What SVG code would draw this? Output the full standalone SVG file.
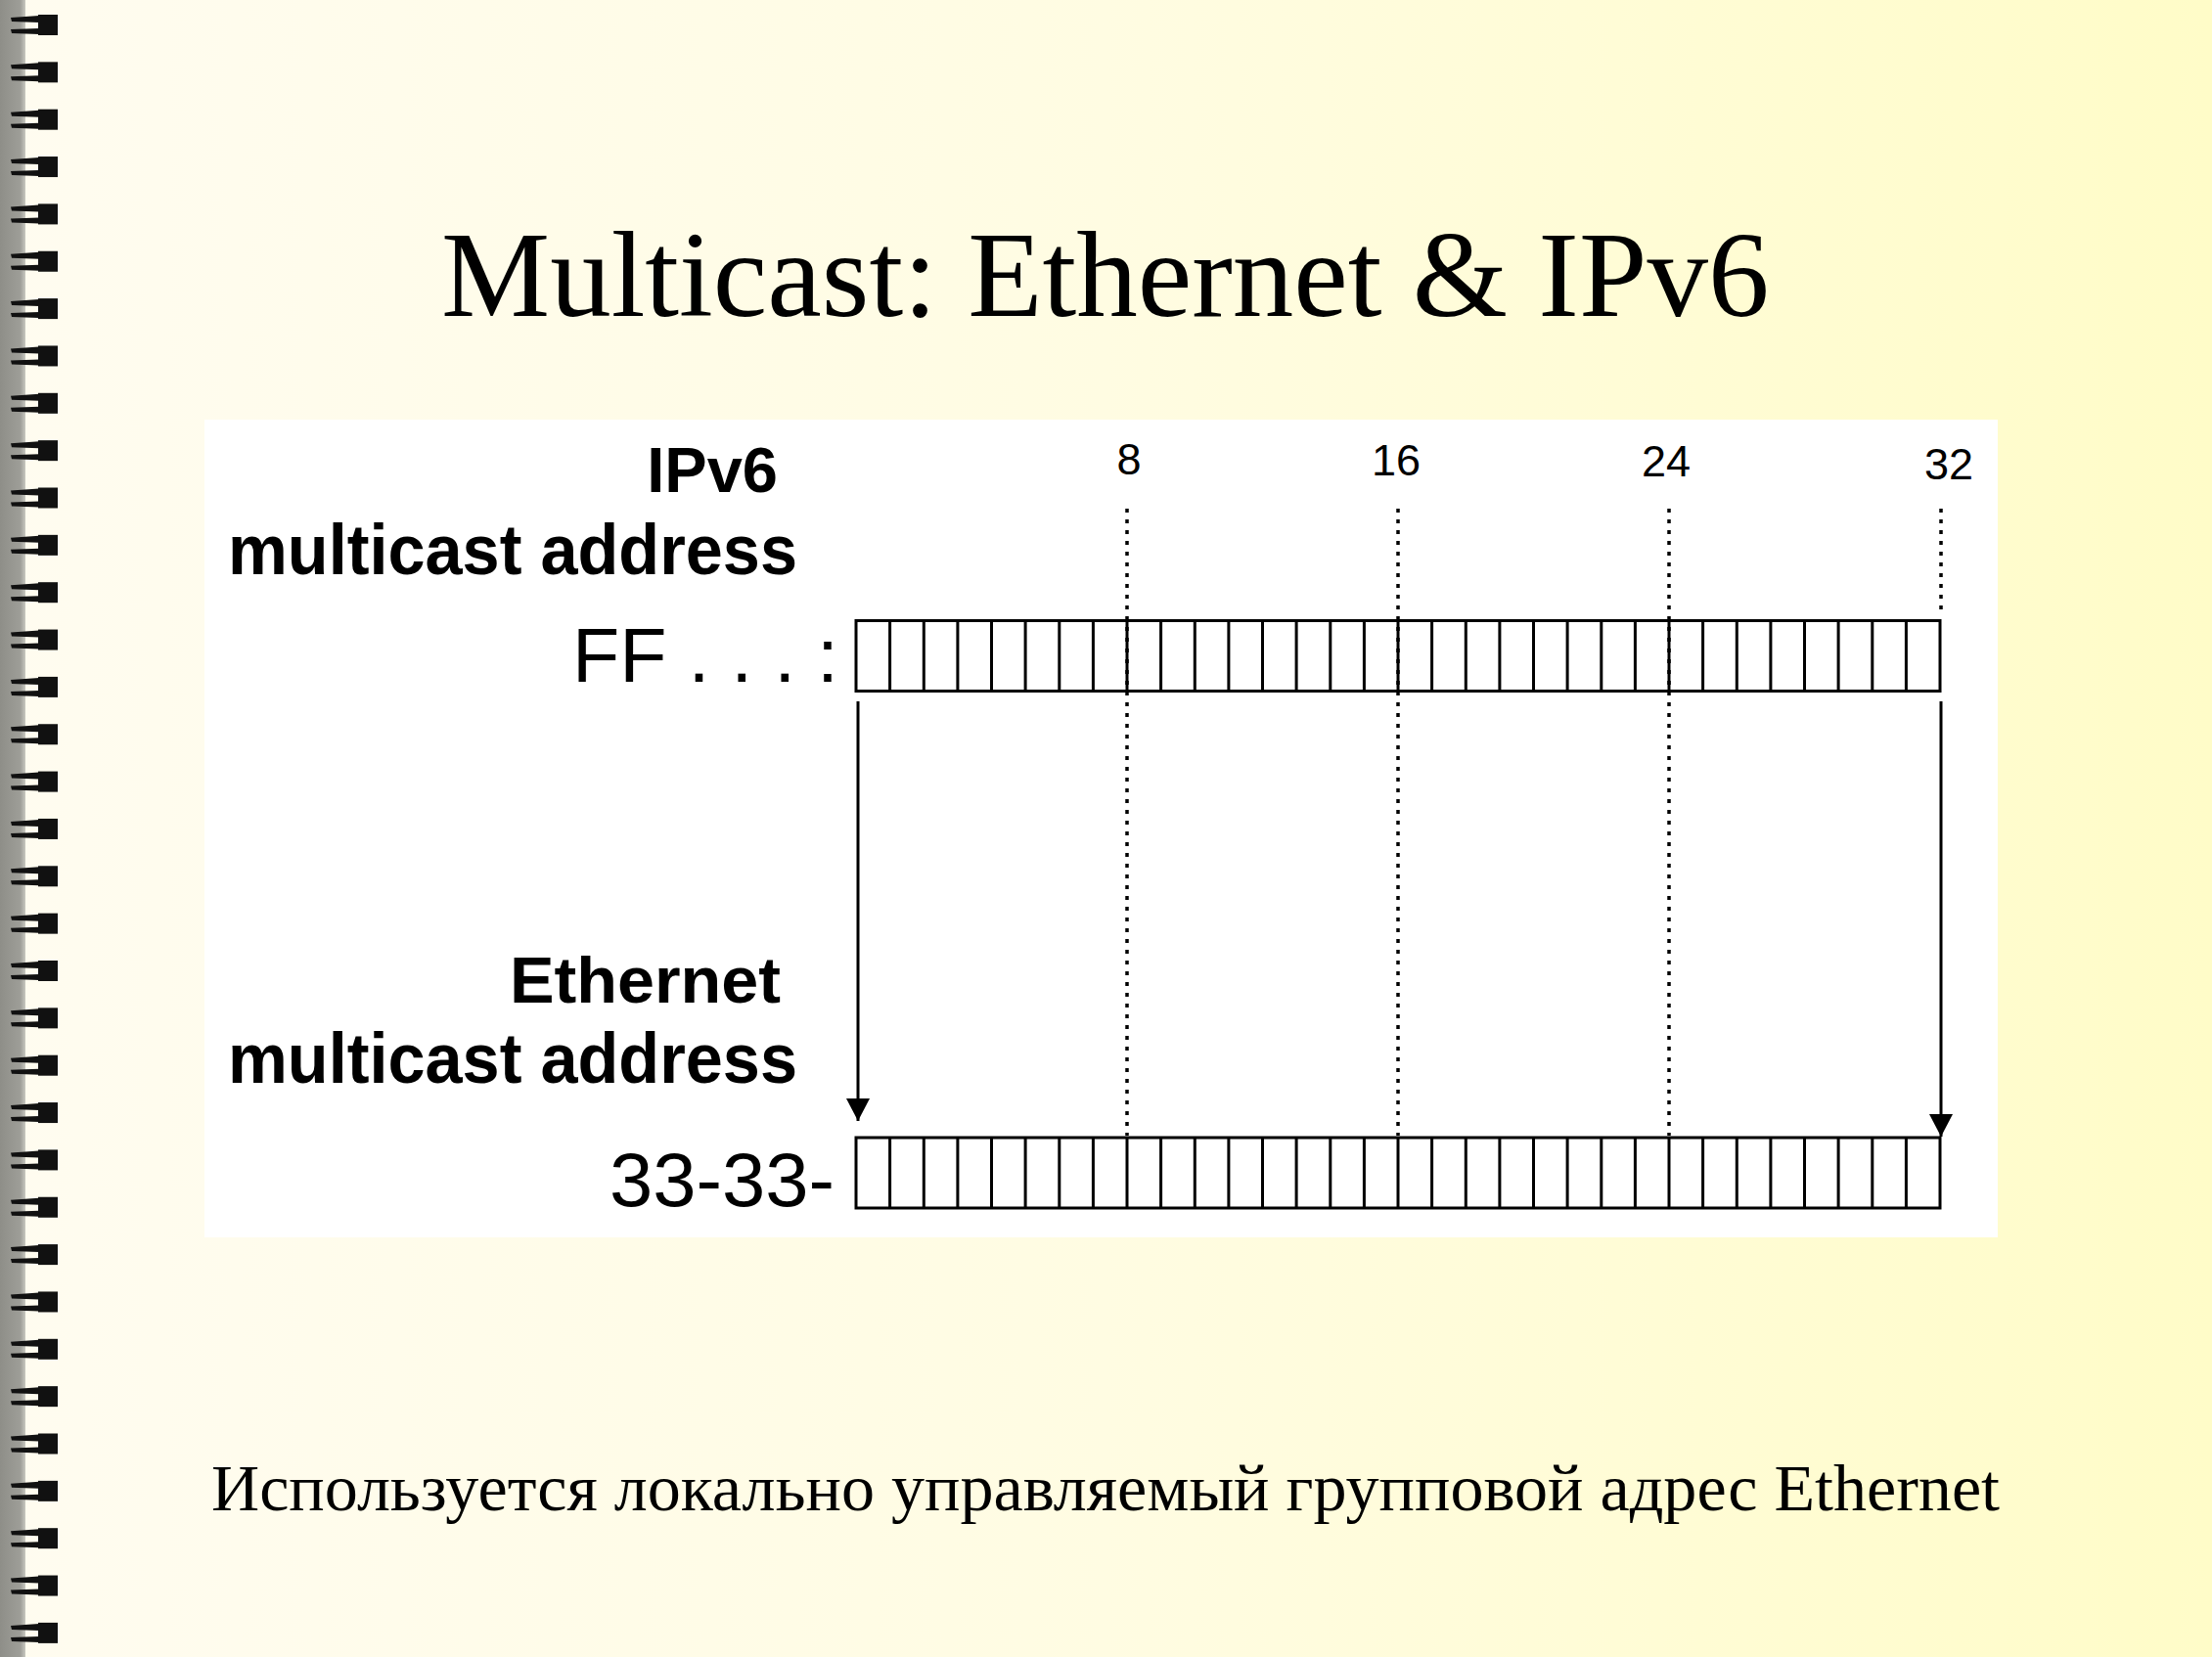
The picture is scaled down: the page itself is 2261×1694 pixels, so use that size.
<svg xmlns="http://www.w3.org/2000/svg" width="2261" height="1694" viewBox="0 0 2261 1694">
  <style>
    .sans { font-family: "Liberation Sans", Arial, sans-serif; fill: #000; }
    .bold { font-weight: bold; }
    .serif { font-family: "Liberation Serif", "Times New Roman", serif; fill: #000; }
    .cell { fill: none; stroke: #000; stroke-width: 3; }
    .div { stroke: #000; stroke-width: 3; }
    .dot { stroke: #000; stroke-width: 3.5; stroke-dasharray: 4 7; fill: none; }
    .arrow { stroke: #000; stroke-width: 3; fill: none; marker-end: url(#head); }
  </style>
  <defs>
    <linearGradient id="bg" x1="0" y1="0" x2="1" y2="0">
      <stop offset="0" stop-color="#fffcf0"/>
      <stop offset="0.5" stop-color="#fffce2"/>
      <stop offset="1" stop-color="#fffcc8"/>
    </linearGradient>
    <linearGradient id="strip" x1="0" y1="0" x2="1" y2="0">
      <stop offset="0" stop-color="#8e8e88"/>
      <stop offset="0.8" stop-color="#9e9e98"/>
      <stop offset="1" stop-color="#c8c8c0"/>
    </linearGradient>
    <g id="ring" fill="#111">
      <path d="M11,3 L40,1 L40,8 L12,7 Z"/>
      <path d="M11,15 L40,14 L40,20 L12,19 Z"/>
      <rect x="39" y="0" width="20" height="21"/>
    </g>
    <marker id="head" markerUnits="userSpaceOnUse" viewBox="0 -13 24 26" refX="23" refY="0" markerWidth="24" markerHeight="26" orient="auto">
      <path d="M0,-12 L23,0 L0,12 Z" fill="#000"/>
    </marker>
  </defs>

  <rect width="2261" height="1694" fill="url(#bg)"/>

  <g id="binding">
    <rect x="0" y="0" width="26" height="1694" fill="url(#strip)"/>
    <use href="#ring" y="15"/>
    <use href="#ring" y="63.35"/>
    <use href="#ring" y="111.7"/>
    <use href="#ring" y="160.05"/>
    <use href="#ring" y="208.4"/>
    <use href="#ring" y="256.75"/>
    <use href="#ring" y="305.1"/>
    <use href="#ring" y="353.45"/>
    <use href="#ring" y="401.8"/>
    <use href="#ring" y="450.15"/>
    <use href="#ring" y="498.5"/>
    <use href="#ring" y="546.85"/>
    <use href="#ring" y="595.2"/>
    <use href="#ring" y="643.55"/>
    <use href="#ring" y="691.9"/>
    <use href="#ring" y="740.25"/>
    <use href="#ring" y="788.6"/>
    <use href="#ring" y="836.95"/>
    <use href="#ring" y="885.3"/>
    <use href="#ring" y="933.65"/>
    <use href="#ring" y="982"/>
    <use href="#ring" y="1030.35"/>
    <use href="#ring" y="1078.7"/>
    <use href="#ring" y="1127.05"/>
    <use href="#ring" y="1175.4"/>
    <use href="#ring" y="1223.75"/>
    <use href="#ring" y="1272.1"/>
    <use href="#ring" y="1320.45"/>
    <use href="#ring" y="1368.8"/>
    <use href="#ring" y="1417.15"/>
    <use href="#ring" y="1465.5"/>
    <use href="#ring" y="1513.85"/>
    <use href="#ring" y="1562.2"/>
    <use href="#ring" y="1610.55"/>
    <use href="#ring" y="1658.9"/>
  </g>

  <g id="title">
    <text class="serif" x="451" y="323" font-size="125">Multicast: Ethernet &amp; IPv6</text>
  </g>

  <g id="panel">
    <rect x="209" y="429" width="1833" height="836" fill="#ffffff"/>
  </g>

  <g id="bit-scale">
    <text class="sans" x="1154" y="485" font-size="45" text-anchor="middle">8</text>
    <text class="sans" x="1427" y="486" font-size="45" text-anchor="middle">16</text>
    <text class="sans" x="1703" y="487" font-size="45" text-anchor="middle">24</text>
    <text class="sans" x="1992" y="490" font-size="45" text-anchor="middle">32</text>
  </g>

  <g id="ipv6-label">
    <text class="sans bold" x="795" y="503" font-size="65" text-anchor="end">IPv6</text>
    <text class="sans bold" x="233" y="587" font-size="72" textLength="582" lengthAdjust="spacingAndGlyphs">multicast address</text>
    <text class="sans" x="585" y="697" font-size="78" textLength="272" lengthAdjust="spacingAndGlyphs">FF . . . :</text>
  </g>

  <g id="ipv6-row">
    <rect class="cell" x="875" y="634.5" width="1108" height="72"/>
    <path class="div" d="M909.6,634.5V706.5M944.3,634.5V706.5M978.9,634.5V706.5M1013.5,634.5V706.5M1048.1,634.5V706.5M1082.8,634.5V706.5M1117.4,634.5V706.5M1152,634.5V706.5M1186.6,634.5V706.5M1221.3,634.5V706.5M1255.9,634.5V706.5M1290.5,634.5V706.5M1325.1,634.5V706.5M1359.8,634.5V706.5M1394.4,634.5V706.5M1429,634.5V706.5M1463.6,634.5V706.5M1498.3,634.5V706.5M1532.9,634.5V706.5M1567.5,634.5V706.5M1602.1,634.5V706.5M1636.8,634.5V706.5M1671.4,634.5V706.5M1706,634.5V706.5M1740.6,634.5V706.5M1775.3,634.5V706.5M1809.9,634.5V706.5M1844.5,634.5V706.5M1879.1,634.5V706.5M1913.8,634.5V706.5M1948.4,634.5V706.5"/>
  </g>

  <g id="eth-label">
    <text class="sans bold" x="521" y="1025" font-size="66" textLength="277" lengthAdjust="spacingAndGlyphs">Ethernet</text>
    <text class="sans bold" x="233" y="1107" font-size="72" textLength="582" lengthAdjust="spacingAndGlyphs">multicast address</text>
    <text class="sans" x="623" y="1233" font-size="78" textLength="230" lengthAdjust="spacingAndGlyphs">33-33-</text>
  </g>

  <g id="eth-row">
    <rect class="cell" x="875" y="1163" width="1108" height="72"/>
    <path class="div" d="M909.6,1163V1235M944.3,1163V1235M978.9,1163V1235M1013.5,1163V1235M1048.1,1163V1235M1082.8,1163V1235M1117.4,1163V1235M1152,1163V1235M1186.6,1163V1235M1221.3,1163V1235M1255.9,1163V1235M1290.5,1163V1235M1325.1,1163V1235M1359.8,1163V1235M1394.4,1163V1235M1429,1163V1235M1463.6,1163V1235M1498.3,1163V1235M1532.9,1163V1235M1567.5,1163V1235M1602.1,1163V1235M1636.8,1163V1235M1671.4,1163V1235M1706,1163V1235M1740.6,1163V1235M1775.3,1163V1235M1809.9,1163V1235M1844.5,1163V1235M1879.1,1163V1235M1913.8,1163V1235M1948.4,1163V1235"/>
  </g>

  <g id="connectors">
    <line class="dot" x1="1152" y1="520" x2="1152" y2="1161"/>
    <line class="dot" x1="1429" y1="520" x2="1429" y2="1161"/>
    <line class="dot" x1="1706" y1="520" x2="1706" y2="1161"/>
    <line class="dot" x1="1984" y1="520" x2="1984" y2="630"/>
    <line class="arrow" x1="877" y1="717" x2="877" y2="1146"/>
    <line class="arrow" x1="1984" y1="717" x2="1984" y2="1162"/>
  </g>

  <g id="footer">
    <text class="serif" x="216" y="1544" font-size="68" textLength="1828" lengthAdjust="spacingAndGlyphs">Используется локально управляемый групповой адрес Ethernet</text>
  </g>
</svg>
